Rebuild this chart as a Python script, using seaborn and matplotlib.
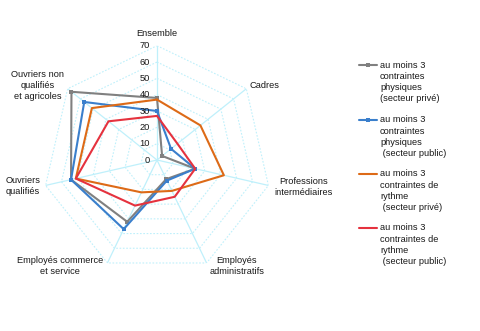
import numpy as np
import pandas as pd
import matplotlib
matplotlib.use("Agg")
import matplotlib.pyplot as plt
from matplotlib.lines import Line2D
import seaborn as sns

# ---- data ----
categories = ["Ensemble", "Cadres", "Professions\nintermédiaires", "Employés\nadministratifs",
              "Employés commerce\net service", "Ouvriers\nqualifiés", "Ouvriers non\nqualifiés\net agricoles"]
phys_prive = [38, 4, 24, 13, 42, 54, 67]
phys_public = [30, 11, 24, 14, 47, 54, 57]
rythme_prive = [37, 34, 42, 21, 22, 51, 51]
rythme_public = [27, 16, 24, 25, 31, 51, 38]
series_labels = ["au moins 3\ncontraintes\nphysiques\n(secteur privé)",
                 "au moins 3\ncontraintes\nphysiques\n (secteur public)",
                 "au moins 3\ncontraintes de\nrythme\n (secteur privé)",
                 "au moins 3\ncontraintes de\nrythme\n (secteur public)"]
r_ticks = [0, 10, 20, 30, 40, 50, 60, 70]

sns.set_theme(style="white")
plt.rcParams['font.family'] = ['Liberation Sans', 'DejaVu Sans']

W, H = 480, 331
fig = plt.figure(figsize=(W / 100, H / 100), dpi=100)
cx, cy, R = 157, 160, 114.3
ax = fig.add_axes([(cx - R) / W, 1 - (cy + R) / H, 2 * R / W, 2 * R / H], projection='polar')
ax.set_theta_zero_location('N')
ax.set_theta_direction(-1)
ax.set_ylim(0, 70)
ax.grid(False)
ax.spines['polar'].set_visible(False)
ax.set_xticks([])
ax.set_yticks([])
ax.patch.set_alpha(0)

n = len(categories)
theta = np.linspace(0, 2 * np.pi, n, endpoint=False)
theta_c = np.append(theta, theta[0])
grid_col = '#bff0fb'

# rings (dotted heptagons) and spokes
for r in r_ticks[1:]:
    ax.plot(theta_c, [r] * (n + 1), color=grid_col, lw=0.8, ls=(0, (1.5, 1.5)), zorder=1)
for t in theta:
    ax.plot([t, t], [0, r_ticks[-1]], color=grid_col, lw=0.9, zorder=1)

colors = ['#808080', '#3a7fcc', '#dd6a17', '#e5323e']
markers = ['s', 's', None, None]
data = [phys_prive, phys_public, rythme_prive, rythme_public]
for vals, col, mk, lab in zip(data, colors, markers, series_labels):
    df = pd.DataFrame({'theta': theta_c, 'val': vals + [vals[0]]})
    sns.lineplot(data=df, x='theta', y='val', ax=ax, sort=False, estimator=None,
                 color=col, lw=1.5, marker=mk, markersize=2.5, markeredgewidth=0, zorder=3)
ax.set_xlabel('')
ax.set_ylabel('')
ax.set_xticks([])
ax.set_yticks([])
ax.set_ylim(0, 70)

fs = 6.7
txt_col = '#1a1a1a'
for r in r_ticks:
    ax.annotate(str(r), xy=(0, r), xytext=(-5, 0), textcoords='offset points',
                ha='right', va='center', fontsize=fs, color=txt_col)

# category labels (pixel positions)
label_pos = [(157, 33), (264, 85), (304, 187), (237, 266), (60, 266), (23, 186), (37.5, 85.5)]
for lab, (px, py) in zip(categories, label_pos):
    fig.text(px / W, 1 - py / H, lab, ha='center', va='center', fontsize=fs,
             color=txt_col, linespacing=1.3, multialignment='center')

# legend (manual)
leg_y = [65, 120, 174, 228]
for lab, col, mk, y in zip(series_labels, colors, markers, leg_y):
    fig.add_artist(Line2D([359 / W, 377 / W], [1 - y / H, 1 - y / H], color=col, lw=1.5,
                          transform=fig.transFigure))
    if mk:
        fig.add_artist(Line2D([368 / W], [1 - y / H], color=col, marker=mk, markersize=2.5,
                              markeredgewidth=0, transform=fig.transFigure))
    fig.text(380 / W, 1 - (y - 4.5) / H, lab, ha='left', va='top', fontsize=fs,
             color=txt_col, linespacing=1.3)

fig.savefig('out.png', dpi=100)
